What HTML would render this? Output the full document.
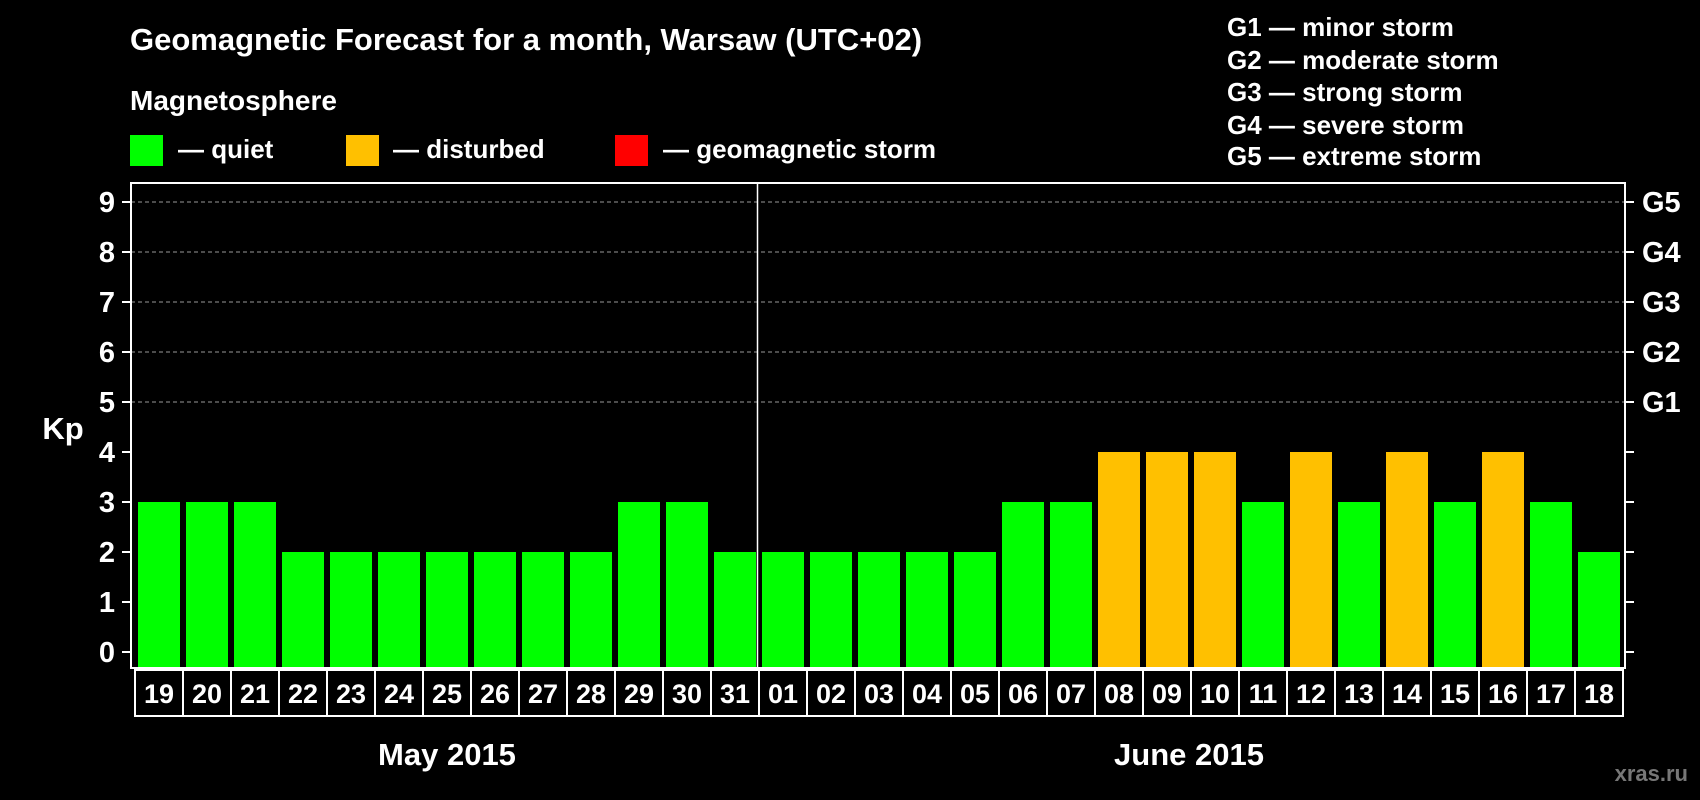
<!DOCTYPE html>
<html><head><meta charset="utf-8"><style>
html,body{margin:0;padding:0;background:#000;}
svg{display:block;font-family:"Liberation Sans",Arial,sans-serif;font-weight:bold;}
</style></head><body>
<svg id="chart" width="1700" height="800" viewBox="0 0 1700 800" xmlns="http://www.w3.org/2000/svg">
<text x="130" y="50" fill="#fff" font-size="31">Geomagnetic Forecast for a month, Warsaw (UTC+02)</text>
<text x="130" y="110" fill="#fff" font-size="28">Magnetosphere</text>
<rect x="130" y="135" width="33" height="31" fill="#00ff00"/>
<text x="178" y="158" fill="#fff" font-size="26">— quiet</text>
<rect x="346" y="135" width="33" height="31" fill="#ffc000"/>
<text x="393" y="158" fill="#fff" font-size="26">— disturbed</text>
<rect x="615" y="135" width="33" height="31" fill="#ff0000"/>
<text x="663" y="158" fill="#fff" font-size="26">— geomagnetic storm</text>
<g fill="#fff" font-size="26">
<text x="1227" y="36">G1 — minor storm</text>
<text x="1227" y="69">G2 — moderate storm</text>
<text x="1227" y="101">G3 — strong storm</text>
<text x="1227" y="134">G4 — severe storm</text>
<text x="1227" y="165">G5 — extreme storm</text>
</g>
<g id="plot"></g>
<text x="63" y="439" fill="#fff" font-size="31" text-anchor="middle">Kp</text>
<text x="447" y="765" fill="#fff" font-size="31" text-anchor="middle">May 2015</text>
<text x="1189" y="765" fill="#fff" font-size="31" text-anchor="middle">June 2015</text>
<text x="1688" y="781" fill="#777" font-size="22" text-anchor="end">xras.ru</text>
</svg>
<script>
const days = ["19","20","21","22","23","24","25","26","27","28","29","30","31","01","02","03","04","05","06","07","08","09","10","11","12","13","14","15","16","17","18"];
const kpValues = [3,3,3,2,2,2,2,2,2,2,3,3,2,2,2,2,2,2,3,3,4,4,4,3,4,3,4,3,4,3,2];
const yTicks = [0,1,2,3,4,5,6,7,8,9];
const gLabels = ["G1","G2","G3","G4","G5"];
const gLevels = [5,6,7,8,9];
const monthBreakIndex = 13;

const NS = "http://www.w3.org/2000/svg";
const plot = document.getElementById("plot");
const L = 131, R = 1625, T = 183, B = 668;
const y0 = 652, unit = 50;
const slot0 = 135, step = 48, barW = 42;
const y = v => y0 - v * unit;
const xSlot = i => slot0 + i * step;
function mk(tag, attrs, parent) {
  const e = document.createElementNS(NS, tag);
  for (const k in attrs) e.setAttribute(k, attrs[k]);
  (parent || plot).appendChild(e);
  return e;
}
gLevels.forEach(v => {
  const g = mk("line", {x1: L, x2: R, y1: y(v), y2: y(v), stroke: "#999", "stroke-width": 1, "stroke-dasharray": "4,3"});
  
  
});
kpValues.forEach((v, i) => {
  const b = mk("rect", {x: xSlot(i) + 3, y: y(v), width: barW, height: B - y(v), fill: v >= 5 ? "#ff0000" : (v >= 4 ? "#ffc000" : "#00ff00")});
  
  
});
const fr = mk("rect", {x: L, y: T, width: R - L, height: B - T, fill: "none", stroke: "#fff", "stroke-width": 2});


const dv = mk("line", {x1: xSlot(monthBreakIndex) - 1.5, x2: xSlot(monthBreakIndex) - 1.5, y1: T, y2: B, stroke: "#fff", "stroke-width": 1.5});


yTicks.forEach(v => {
  const t = mk("line", {x1: 122, x2: L, y1: y(v), y2: y(v), stroke: "#fff", "stroke-width": 2});
  
  
  const t2 = mk("line", {x1: R, x2: 1634, y1: y(v), y2: y(v), stroke: "#fff", "stroke-width": 2});
  
  
  const lb = mk("text", {x: 115, y: y(v) + 10, fill: "#fff", "font-size": 29, "text-anchor": "end"});
  lb.textContent = v;
  
  
});
gLabels.forEach((g, i) => {
  const lb = mk("text", {x: 1642, y: y(gLevels[i]) + 10, fill: "#fff", "font-size": 29});
  lb.textContent = g;
  
  
});
days.forEach((d, i) => {
  const r = mk("rect", {x: xSlot(i), y: 670, width: step, height: 46, fill: "none", stroke: "#fff", "stroke-width": 2});
  
  
  const t = mk("text", {x: xSlot(i) + step / 2, y: 703, fill: "#fff", "font-size": 27, "text-anchor": "middle"});
  t.textContent = d;
  
  
});
</script>
</body></html>
